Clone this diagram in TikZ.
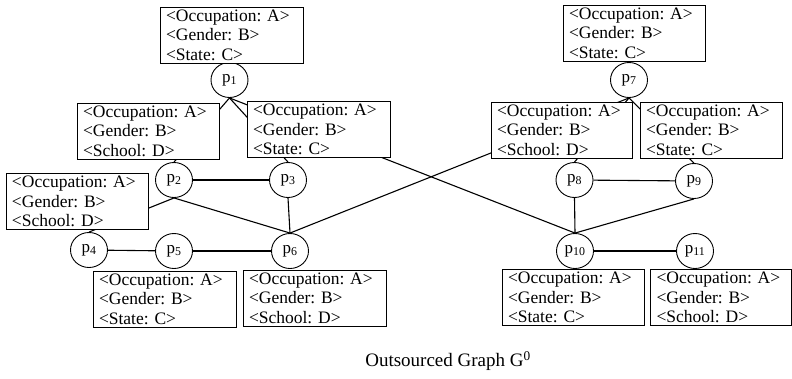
\documentclass[tikz,border=0pt]{standalone}
\usepackage{fontspec}
\setmainfont{Liberation Serif}
\usetikzlibrary{shapes.geometric}
\pgfdeclarelayer{background}
\pgfsetlayers{background,main}
\tikzset{
  attrbox/.style={draw, fill=white, line width=0.9pt, rectangle, minimum height=56pt,
    text width=#1pt-12pt, inner xsep=6pt, inner ysep=0pt, align=left,
    font=\fontsize{17.5}{19.5}\selectfont\frenchspacing},
  pnode/.style={draw, fill=white, ellipse, line width=0.9pt, minimum width=37pt,
    minimum height=35pt, inner sep=0pt, font=\fontsize{17}{19}\selectfont},
  edge/.style={line width=1.1pt}
}
\newcommand{\occA}{<Occupation: A>\\<Gender: B>}
\begin{document}
\begin{tikzpicture}[x=1pt,y=-1pt]
\useasboundingbox (0,0) rectangle (792,378);
% person nodes
\node[pnode] (p1) at (229.5,80) {p\textsubscript{1}};
\node[pnode] (p2) at (174,180) {p\textsubscript{2}};
\node[pnode] (p3) at (288,180) {p\textsubscript{3}};
\node[pnode] (p4) at (89,250) {p\textsubscript{4}};
\node[pnode] (p5) at (174,251) {p\textsubscript{5}};
\node[pnode] (p6) at (290,251) {p\textsubscript{6}};
\node[pnode] (p7) at (629,80) {p\textsubscript{7}};
\node[pnode] (p8) at (574.5,180) {p\textsubscript{8}};
\node[pnode] (p9) at (694,181) {p\textsubscript{9}};
\node[pnode] (p10) at (575,251) {p\textsubscript{10}};
\node[pnode] (p11) at (695,251) {p\textsubscript{11}};
% attribute boxes
\node[attrbox=143] (b1) at (231.5,35) {\occA\\<State: C>};
\node[attrbox=142] (b2) at (148,131) {\occA\\<School: D>};
\node[attrbox=143] (b3) at (318.5,129.5) {\occA\\<State: C>};
\node[attrbox=142] (b4) at (77,201.5) {\occA\\<School: D>};
\node[attrbox=143] (b5) at (164.5,299) {\occA\\<State: C>};
\node[attrbox=143] (b6) at (314.5,298) {\occA\\<School: D>};
\node[attrbox=142] (b7) at (634,33) {\occA\\<State: C>};
\node[attrbox=141] (b8) at (561.5,130) {\occA\\<School: D>};
\node[attrbox=142] (b9) at (711,130) {\occA\\<State: C>};
\node[attrbox=142] (b10) at (573,297.5) {\occA\\<State: C>};
\node[attrbox=141] (b11) at (721,297.5) {\occA\\<School: D>};
% caption
\node[font=\fontsize{19}{22}\selectfont] (cap) at (448,361) {Outsourced Graph G\textsuperscript{0}};
% edges behind
\begin{pgfonlayer}{background}
\draw[edge] (p1.south) -- (p2.north);
\draw[edge] (p1.south) -- (p3.north);
\draw[edge] (p1.south) -- (p10.north);
\draw[edge] (p2) -- (p3);
\draw[edge] (p2.south) -- (p4.north);
\draw[edge] (p2.south) -- (p6.north);
\draw[edge] (p3.south) -- (p6.north);
\draw[edge] (p4) -- (p5);
\draw[edge] (p5) -- (p6);
\draw[edge] (p7.south) -- (p8.north);
\draw[edge] (p7.south) -- (p9.north);
\draw[edge] (p7.south) -- (p6.north);
\draw[edge] (p8) -- (p9);
\draw[edge] (p8.south) -- (p10.north);
\draw[edge] (p9.south) -- (p10.north);
\draw[edge] (p10) -- (p11);
\end{pgfonlayer}
\end{tikzpicture}
\end{document}
